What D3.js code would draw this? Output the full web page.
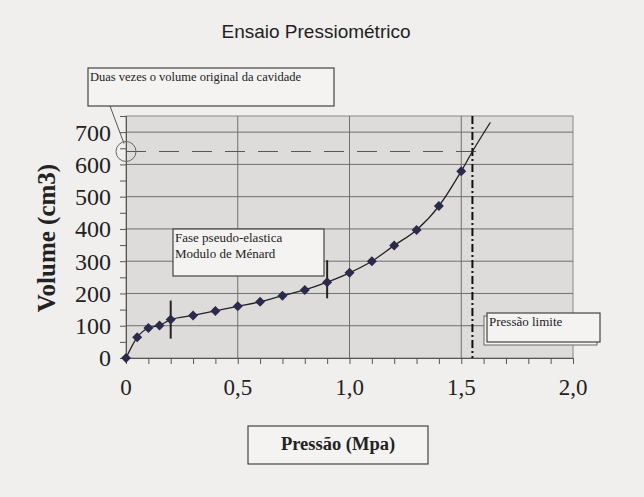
<!DOCTYPE html>
<html>
<head>
<meta charset="utf-8">
<script src="https://cdn.jsdelivr.net/npm/d3@7"></script>
<style>
  body { margin: 0; background: #f1efed; }
  svg { display: block; }
  .serif { font-family: 'Liberation Serif', 'Times New Roman', serif; }
</style>
</head>
<body>
<script>
// pressure (MPa) and volume (cm3)
const pressao = [0, 0.05, 0.10, 0.15, 0.20, 0.30, 0.40, 0.50, 0.60, 0.70, 0.80, 0.90, 1.00, 1.10, 1.20, 1.30, 1.40, 1.50];
const volume  = [0, 64, 93, 101, 119, 132, 146, 160, 174, 193, 211, 235, 264, 300, 349, 397, 471, 579];
// curve carried on past the last reading (no markers)
const extPressao = [1.55, 1.63];
const extVolume  = [640, 730];

const xTicks = [0, 0.5, 1.0, 1.5, 2.0];
const xTickLabels = ["0", "0,5", "1,0", "1,5", "2,0"];
const yTicks = [0, 100, 200, 300, 400, 500, 600, 700];

const volDuplo = 640;        // twice the original cavity volume
const pressaoLimite = 1.55;  // limit pressure
// vertical bars marking the pseudo-elastic phase
const faseX = [0.2, 0.9];
const faseY0 = [60, 185];
const faseY1 = [178, 303];

const W = 644, H = 497;
const margin = { left: 126, right: 71, top: 116, bottom: 139 };
const plotW = W - margin.left - margin.right;
const plotH = H - margin.top - margin.bottom;

const svg = d3.select("body").append("svg")
  .attr("width", W)
  .attr("height", H);

const x = d3.scaleLinear().domain([0, 2.0]).range([0, plotW]);
const y = d3.scaleLinear().domain([0, 750]).range([plotH, 0]);

// title
svg.append("text")
  .attr("x", 316).attr("y", 38)
  .attr("text-anchor", "middle")
  .style("font-family", "'Liberation Sans', Arial, sans-serif")
  .style("font-size", "19px")
  .style("fill", "#222")
  .text("Ensaio Pressiométrico");

const g = svg.append("g").attr("transform", "translate(" + margin.left + "," + margin.top + ")");

// plot area
g.append("rect")
  .attr("width", plotW).attr("height", plotH)
  .attr("fill", "#dddcda")
  .attr("stroke", "#8a8a8a");

// grid
g.selectAll(".hgrid").data(yTicks.filter(d => d > 0))
  .enter().append("line")
  .attr("x1", 0).attr("x2", plotW)
  .attr("y1", d => y(d)).attr("y2", d => y(d))
  .attr("stroke", "#6f6f6f").attr("stroke-width", 1);

g.selectAll(".vgrid").data(xTicks.filter(d => d > 0 && d < 2))
  .enter().append("line")
  .attr("x1", d => x(d)).attr("x2", d => x(d))
  .attr("y1", 0).attr("y2", plotH)
  .attr("stroke", "#6f6f6f").attr("stroke-width", 1);

// axes
const xAxis = d3.axisBottom(x)
  .tickValues(d3.range(0, 21).map(i => i / 10))
  .tickSize(6)
  .tickFormat("");
g.append("g")
  .attr("transform", "translate(0," + plotH + ")")
  .call(xAxis)
  .call(a => a.select(".domain").attr("stroke", "#555"))
  .call(a => a.selectAll(".tick line").attr("stroke", "#555"));

g.selectAll(".xlab").data(xTicks)
  .enter().append("text")
  .attr("class", "serif")
  .attr("x", d => x(d))
  .attr("y", plotH + 37)
  .attr("text-anchor", "middle")
  .style("font-size", "23px")
  .style("fill", "#222")
  .text((d, i) => xTickLabels[i]);

const yAxis = d3.axisLeft(y)
  .tickValues(d3.range(0, 751, 50))
  .tickSize(6)
  .tickFormat("");
g.append("g")
  .call(yAxis)
  .call(a => a.select(".domain").attr("stroke", "#555"))
  .call(a => a.selectAll(".tick line").attr("stroke", "#555"));

g.selectAll(".ylab").data(yTicks)
  .enter().append("text")
  .attr("class", "serif")
  .attr("x", -15)
  .attr("y", d => y(d))
  .attr("dy", "0.35em")
  .attr("text-anchor", "end")
  .style("font-size", "24px")
  .style("fill", "#222")
  .text(d => d);

// y axis title
svg.append("text")
  .attr("class", "serif")
  .attr("transform", "translate(55,238) rotate(-90)")
  .attr("text-anchor", "middle")
  .style("font-size", "25px")
  .style("font-weight", "bold")
  .style("fill", "#222")
  .text("Volume (cm3)");

// dashed line: twice the original volume
g.append("line")
  .attr("x1", 0).attr("x2", x(1.58))
  .attr("y1", y(volDuplo)).attr("y2", y(volDuplo))
  .attr("stroke", "#555").attr("stroke-width", 1)
  .attr("stroke-dasharray", "20,13");

g.append("circle")
  .attr("cx", x(0)).attr("cy", y(volDuplo))
  .attr("r", 10)
  .attr("fill", "none").attr("stroke", "#666");

// limit pressure line (dash-dot)
g.append("line")
  .attr("x1", x(pressaoLimite)).attr("x2", x(pressaoLimite))
  .attr("y1", 0).attr("y2", plotH)
  .attr("stroke", "#111").attr("stroke-width", 2)
  .attr("stroke-dasharray", "8,3,2,3");

// curve
const pts = pressao.map((p, i) => [p, volume[i]]);
const allPts = pts.concat(extPressao.map((p, i) => [p, extVolume[i]]));
const line = d3.line()
  .x(d => x(d[0])).y(d => y(d[1]))
  .curve(d3.curveMonotoneX);
g.append("path")
  .datum(allPts)
  .attr("d", line)
  .attr("fill", "none")
  .attr("stroke", "#222")
  .attr("stroke-width", 1.3);

// phase marker bars
g.selectAll(".fase").data(faseX)
  .enter().append("line")
  .attr("x1", d => x(d)).attr("x2", d => x(d))
  .attr("y1", (d, i) => y(faseY0[i])).attr("y2", (d, i) => y(faseY1[i]))
  .attr("stroke", "#222").attr("stroke-width", 2);

// markers
g.selectAll(".pt").data(pts)
  .enter().append("path")
  .attr("transform", d => "translate(" + x(d[0]) + "," + y(d[1]) + ") rotate(45)")
  .attr("d", d3.symbol().type(d3.symbolSquare).size(50))
  .attr("fill", "#2b2a4a");

// annotation boxes
function box(x0, y0, w, h, lines, opts) {
  opts = opts || {};
  if (opts.shadow) {
    svg.append("rect")
      .attr("x", x0 - 3).attr("y", y0 + 3).attr("width", w).attr("height", h)
      .attr("fill", "#f4f3f2").attr("stroke", "#666");
  }
  svg.append("rect")
    .attr("x", x0).attr("y", y0).attr("width", w).attr("height", h)
    .attr("fill", "#f4f3f2").attr("stroke", "#444").attr("stroke-width", 1.2);
  lines.forEach((t, i) => {
    svg.append("text")
      .attr("class", "serif")
      .attr("x", opts.center ? x0 + w / 2 : x0 + 2)
      .attr("y", y0 + (opts.base || 13) + i * 16)
      .attr("text-anchor", opts.center ? "middle" : "start")
      .style("font-size", (opts.size || 13) + "px")
      .style("font-weight", opts.bold ? "bold" : "normal")
      .style("fill", "#222")
      .text(t);
  });
}

// leader line to circle
svg.append("line")
  .attr("x1", 110).attr("y1", 106)
  .attr("x2", margin.left - 2).attr("y2", margin.top + y(volDuplo) - 8)
  .attr("stroke", "#555");

box(88, 68, 246, 38, ["Duas vezes o volume original da cavidade"], { size: 12.5, base: 13 });
box(173, 229, 151, 47, ["Fase pseudo-elastica", "Modulo de Ménard"], { size: 13, base: 13 });
box(487, 313, 113, 29, ["Pressão limite"], { size: 13, base: 13, shadow: true });
box(248, 426, 180, 38, ["Pressão (Mpa)"], { size: 18.5, base: 24, bold: true, center: true });
</script>
</body>
</html>
